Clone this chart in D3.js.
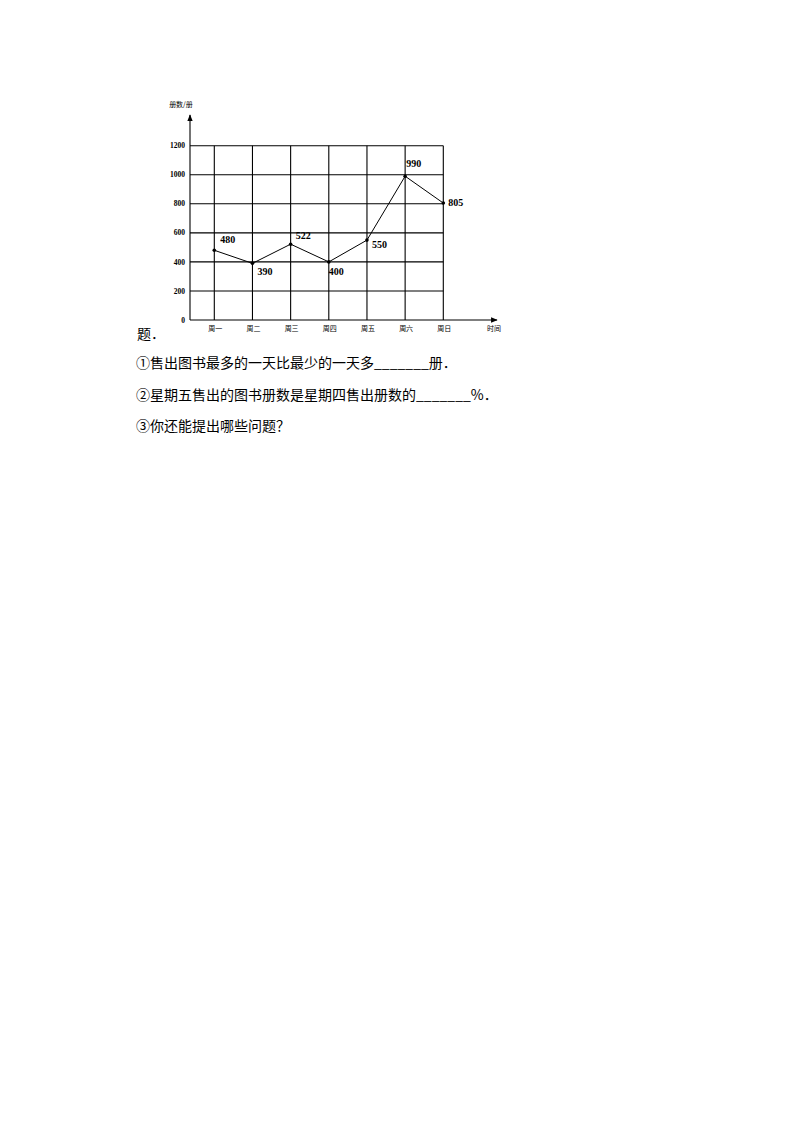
<!DOCTYPE html>
<html>
<head>
<meta charset="utf-8">
<script src="https://cdn.jsdelivr.net/npm/d3@7"></script>
<style>
  body { margin: 0; background: #fff; }
  svg { display: block; }
</style>
</head>
<body>
<svg id="page" width="794" height="1123"></svg>
<script>
// data
const days = ["周一", "周二", "周三", "周四", "周五", "周六", "周日"];
const sold = [480, 390, 522, 400, 550, 990, 805];
const yTicks = [0, 200, 400, 600, 800, 1000, 1200];
// label offsets per point (dx, dy) to place the value text like the picture
const labelDx = [6, 5, 5, 0, 5, 1, 5];
const labelDy = [-7, 12, -5, 13, 8, -9, 3];
const questions = [
  "①售出图书最多的一天比最少的一天多_______册．",
  "②星期五售出的图书册数是星期四售出册数的_______%．",
  "③你还能提出哪些问题？"
];

const svg = d3.select("#page");
const cjk = "'Noto Sans CJK SC', sans-serif";
const serif = "'Liberation Serif', 'DejaVu Serif', serif";

// scales
const x = d3.scalePoint().domain(days).range([214.3, 443.3]);
const y = d3.scaleLinear().domain([0, 1200]).range([320, 145.7]);
const x0 = 190;

const chart = svg.append("g");

// ==================================
// grid
// ==================================
chart.selectAll("line.h")
  .data(yTicks.filter(d => d > 0))
  .enter().append("line")
  .attr("x1", x0).attr("x2", x(days[days.length - 1]))
  .attr("y1", d => y(d)).attr("y2", d => y(d))
  .attr("stroke", "#000").attr("stroke-width", 1.1);

chart.selectAll("line.v")
  .data(days)
  .enter().append("line")
  .attr("x1", d => x(d)).attr("x2", d => x(d))
  .attr("y1", y(0)).attr("y2", y(1200))
  .attr("stroke", "#000").attr("stroke-width", 1.1);

// ==================================
// axes with arrows
// ==================================
svg.append("defs").append("marker")
  .attr("id", "arrow")
  .attr("viewBox", "0 0 10 10")
  .attr("refX", 9).attr("refY", 5)
  .attr("markerWidth", 6).attr("markerHeight", 6)
  .attr("orient", "auto")
  .append("path").attr("d", "M0,1 L10,5 L0,9 Z").attr("fill", "#000");

chart.append("line")
  .attr("x1", x0).attr("y1", y(0))
  .attr("x2", x0).attr("y2", 115)
  .attr("stroke", "#000").attr("stroke-width", 1.1)
  .attr("marker-end", "url(#arrow)");

chart.append("line")
  .attr("x1", x0).attr("y1", y(0))
  .attr("x2", 497).attr("y2", y(0))
  .attr("stroke", "#000").attr("stroke-width", 1.1)
  .attr("marker-end", "url(#arrow)");

// tick labels
chart.selectAll("text.yt")
  .data(yTicks)
  .enter().append("text")
  .attr("x", 185).attr("y", d => y(d))
  .attr("dy", "0.35em")
  .attr("text-anchor", "end")
  .attr("font-family", serif).attr("font-size", 7.5).attr("font-weight", "bold")
  .text(d => d);

chart.selectAll("text.xt")
  .data(days)
  .enter().append("text")
  .attr("x", d => x(d) + 1).attr("y", 331)
  .attr("text-anchor", "middle")
  .attr("font-family", cjk).attr("font-size", 7)
  .text(d => d);

chart.append("text")
  .attr("x", 181).attr("y", 107)
  .attr("text-anchor", "middle")
  .attr("font-family", cjk).attr("font-size", 7)
  .text("册数/册");

chart.append("text")
  .attr("x", 494).attr("y", 331)
  .attr("text-anchor", "middle")
  .attr("font-family", cjk).attr("font-size", 7)
  .text("时间");

// ==================================
// the line
// ==================================
const line = d3.line()
  .x((d, i) => x(days[i]))
  .y(d => y(d));

chart.append("path")
  .datum(sold)
  .attr("d", line)
  .attr("fill", "none")
  .attr("stroke", "#000").attr("stroke-width", 1);

chart.selectAll("circle")
  .data(sold)
  .enter().append("circle")
  .attr("cx", (d, i) => x(days[i]))
  .attr("cy", d => y(d))
  .attr("r", 1.8)
  .attr("fill", "#000");

chart.selectAll("text.val")
  .data(sold)
  .enter().append("text")
  .attr("x", (d, i) => x(days[i]) + labelDx[i])
  .attr("y", (d, i) => y(d) + labelDy[i])
  .attr("font-family", serif).attr("font-size", 10).attr("font-weight", "bold")
  .text(d => d);

// ==================================
// question text
// ==================================
svg.append("text")
  .attr("x", 137).attr("y", 339)
  .attr("font-family", cjk).attr("font-size", 14)
  .text("题．");

svg.selectAll("text.q")
  .data(questions)
  .enter().append("text")
  .attr("x", 136).attr("y", (d, i) => 368 + i * 31.5)
  .attr("font-family", cjk).attr("font-size", 14)
  .text(d => d);
</script>
</body>
</html>
